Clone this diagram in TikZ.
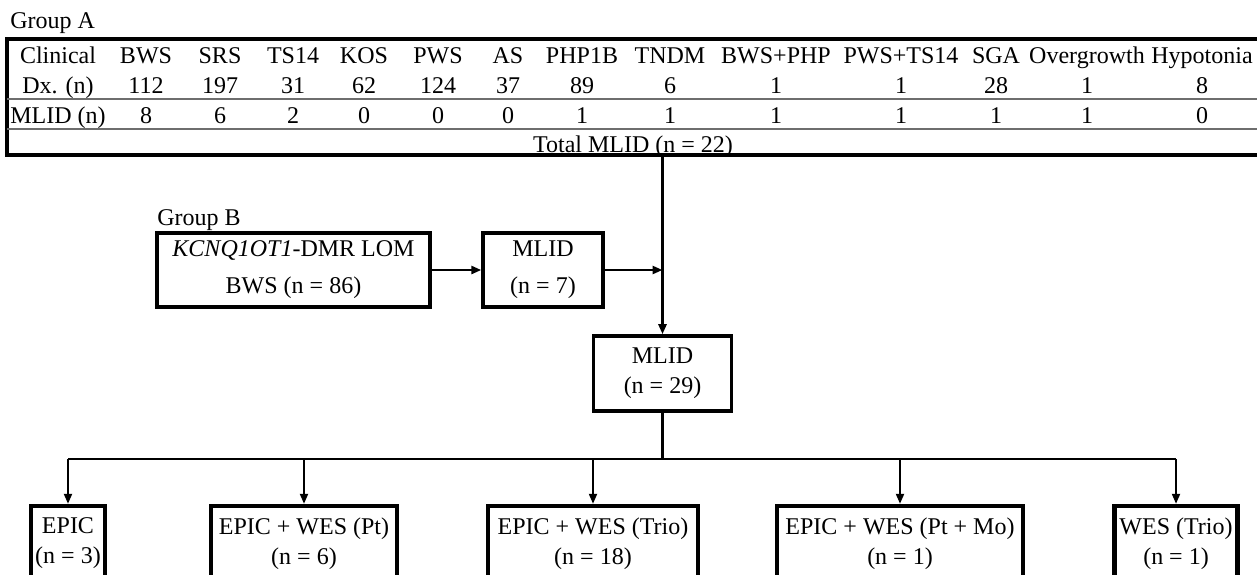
\documentclass[tikz,border=0pt]{standalone}
\usepackage{fontspec}
\setmainfont{Liberation Serif}
\usetikzlibrary{arrows.meta,calc}
\definecolor{rulegray}{RGB}{110,110,110}

\begin{document}
\begin{tikzpicture}[x=0.5pt,y=-0.5pt,font=\fontsize{12}{15}\selectfont,
  cell/.style={anchor=base,inner sep=0pt},
  box/.style={draw,line width=1.7pt,align=center,inner sep=0pt},
  leaf/.style={box,line width=2.2pt,minimum height=37.5pt},
  link/.style={line width=1.3pt,-{Triangle[length=5pt,width=4pt]}},
  branch/.style={line width=1pt,-{Triangle[length=5pt,width=4pt]}}]
\useasboundingbox (0,0) rectangle (1257,574);
% Group A table
\node[cell,anchor=base west] (grpA) at (10,28) {Group A};
\draw[line width=1.8pt] (1257,39) -- (7,39) -- (7,155) -- (1257,155);
\draw[rulegray,line width=0.7pt] (7,99) -- (1257,99) (7,129) -- (1257,129);
\node[cell] (clin) at (58,63) {Clinical};
\node[cell] (dx) at (58,93) {Dx. (n)};
\node[cell] (mlid) at (58,123) {MLID (n)};
\foreach \cx/\dname/\num/\ml [count=\i] in {146/BWS/112/8,220/SRS/197/6,293/TS14/31/2,
  364/KOS/62/0,438/PWS/124/0,508/AS/37/0,582/PHP1B/89/1,670/TNDM/6/1,776/BWS+PHP/1/1,
  901/PWS+TS14/1/1,996/SGA/28/1,1087/Overgrowth/1/1,1202/Hypotonia/8/0}{
  \node[cell] (hd\i) at (\cx,63) {\dname};
  \node[cell] (nn\i) at (\cx,93) {\num};
  \node[cell] (ml\i) at (\cx,123) {\ml};
}
\node[cell] (total) at (633,152) {Total MLID (n = 22)};
\coordinate (tabout) at (662.5,155);
% Group B
\node[cell,anchor=base west] (grpB) at (157,225) {Group B};
\node[box,minimum width=136.5pt,minimum height=37pt] (kcnq) at (293.5,270)
  {\textit{KCNQ1OT1}-DMR LOM\\[3.5pt]BWS (n = 86)};
\node[box,minimum width=60pt,minimum height=37pt] (m7) at (543,270)
  {MLID\\[3.5pt](n = 7)};
\coordinate (join) at (662.5,270);
% Merged MLID
\node[box,line width=1.8pt,minimum width=69pt,minimum height=37.5pt] (m29) at (662.5,373.5)
  {MLID\\(n = 29)};
\draw[link] (kcnq.east) -- (m7.west);
\draw[link] (m7.east) -- (join);
\draw[link] (tabout) -- (m29.north);
% Analyses
\node[leaf,minimum width=37pt] (epic) at (68,543.5) {EPIC\\(n = 3)};
\node[leaf,minimum width=93pt] (ewpt) at (304,543.5) {EPIC + WES (Pt)\\(n = 6)};
\node[leaf,minimum width=105pt] (ewtrio) at (593,543.5) {EPIC + WES (Trio)\\(n = 18)};
\node[leaf,minimum width=123pt] (ewptmo) at (900,543.5) {EPIC + WES (Pt + Mo)\\(n = 1)};
\node[leaf,minimum width=61.5pt] (wes) at (1176,543.5) {WES (Trio)\\(n = 1)};
\coordinate (split) at (662.5,459);
\draw[line width=1.1pt] (m29.south) -- (split);
\draw[line width=1pt] (epic.north |- split) -- (wes.north |- split);
\foreach \b in {epic,ewpt,ewtrio,ewptmo,wes}
  \draw[branch] (\b.north |- split) -- (\b.north);
\end{tikzpicture}
\end{document}
